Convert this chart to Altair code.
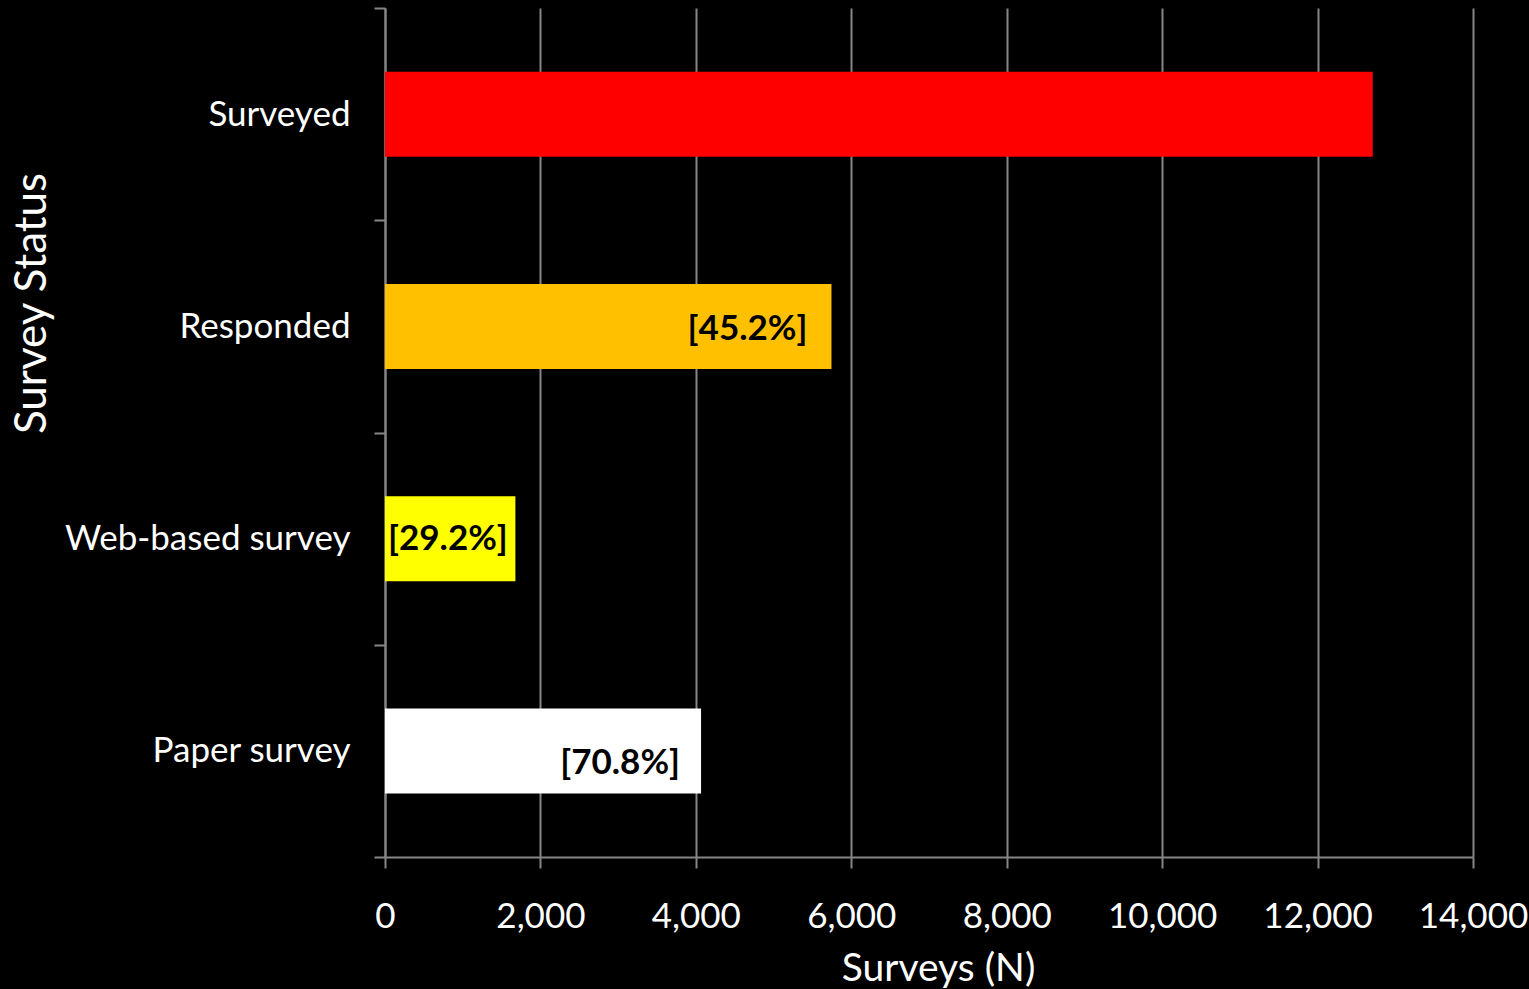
import altair as alt
import pandas as pd

categories = ["Surveyed", "Responded", "Web-based survey", "Paper survey"]
counts = [12710, 5745, 1678, 4067]
labels = ["", "[45.2%]", "[29.2%]", "[70.8%]"]
colors = ["#FF0000", "#FFC000", "#FFFF00", "#FFFFFF"]

df = pd.DataFrame({"status": categories, "n": counts, "label": labels})

FONT = "Lato"
GRID = "#868686"

y_enc = alt.Y("status:N", sort=categories,
              scale=alt.Scale(paddingInner=0, paddingOuter=0),
              axis=alt.Axis(title="Survey Status", tickBand="extent",
                            labelFontSize=35, labelColor="white", labelFont=FONT,
                            labelPadding=24, labelLimit=0, tickSize=11, tickColor=GRID, tickWidth=2,
                            domainColor=GRID, domainWidth=2, grid=False,
                            titleFontSize=44, titleColor="white", titleFont=FONT,
                            titleFontWeight="normal", titleX=-331, titleY=295))
x_enc = alt.X("n:Q", scale=alt.Scale(domain=[0, 14000], nice=False),
              axis=alt.Axis(title="Surveys (N)", values=list(range(0, 14001, 2000)),
                            format=",d", labelFontSize=35, labelColor="white",
                            labelFont=FONT, labelPadding=31, tickSize=11,
                            tickColor=GRID, tickWidth=2, domainColor=GRID,
                            domainWidth=2, gridColor=GRID, gridWidth=2,
                            titleFontSize=39, titleColor="white", titleFont=FONT,
                            titleFontWeight="normal", titleX=553, titleY=123,
                            titleBaseline="alphabetic", labelFlush=False))

bars = alt.Chart(df).mark_bar(size=85).encode(
    x=x_enc, y=y_enc,
    color=alt.Color("status:N", scale=alt.Scale(domain=categories, range=colors), legend=None),
)

def lbl(name, align, dx, dy, at_zero=False):
    base = alt.Chart(df).transform_filter(alt.datum.status == name)
    m = base.mark_text(align=align, dx=dx, dy=dy, fontSize=35, fontWeight="bold",
                       font=FONT, color="black", baseline="middle")
    if at_zero:
        return m.encode(x=alt.datum(0), y=alt.Y("status:N", sort=categories), text="label:N")
    return m.encode(x="n:Q", y=alt.Y("status:N", sort=categories), text="label:N")

chart = alt.layer(
    bars,
    lbl("Responded", "right", -24, 3),
    lbl("Web-based survey", "left", 3, 0, at_zero=True),
    lbl("Paper survey", "right", -21, 12),
).properties(
    width=1088, height=849,
    background="black",
    padding={"left": 385, "top": 8, "right": 56, "bottom": 132},
    autosize=alt.AutoSizeParams(type="none"),
).configure_view(stroke=None)

chart.save("out.html", embed_options={"renderer": "svg", "actions": False})
